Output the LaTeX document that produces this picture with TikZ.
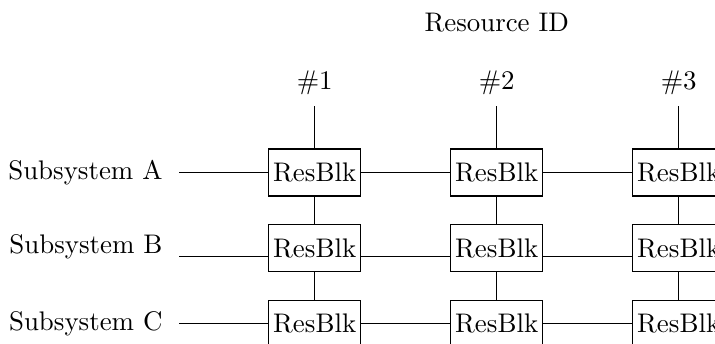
\documentclass[tikz,border=0pt]{standalone}
\begin{document}
\begin{tikzpicture}[x=0.372pt,y=-0.372pt,
  blk/.style={draw, line width=0.4pt, minimum width=34.2pt, minimum height=17.5pt, inner sep=0pt},
  wire/.style={line width=0.4pt},
  sys/.style={anchor=east, inner xsep=0pt}]
\useasboundingbox (0,0) rectangle (715,343);
\clip (0,0) rectangle (715,343);

% grid of resource blocks: rows are subsystems, columns are resource IDs
\foreach \c/\x in {1/314.7,2/496.7,3/678.7}{
  \foreach \r/\y in {A/172.5,B/248.2,C/323.8}{
    \node[blk] (\r\c) at (\x,\y) {ResBlk};
  }
}

% header
\node (rid) at (496.7,23) {Resource ID};
\foreach \c/\x in {1/314.7,2/496.7,3/678.7}{
  \node (id\c) at (\x,83) {\#\c};
  \coordinate (t\c) at (\x,106);
  \draw[wire] (t\c) -- (A\c.north);
  \draw[wire] (A\c.south) -- (B\c.north);
  \draw[wire] (B\c.south) -- (C\c.north);
}

% subsystem labels and their feed lines
\node[sys] (sA) at (163,172.5) {Subsystem A};
\node[sys] (sB) at (163,247) {Subsystem B};
\node[sys] (sC) at (163,323.8) {Subsystem C};
\coordinate (wA) at (179,172.5);
\coordinate (wB) at (179,256.5);
\coordinate (wC) at (179,323.8);

\draw[wire] (wA) -- (A1.west);
\draw[wire] (A1.east) -- (A2.west);
\draw[wire] (A2.east) -- (A3.west);

% the middle row runs at the text baseline
\draw[wire] (wB) -- (wB -| B1.west);
\draw[wire] (B1.east |- wB) -- (B2.west |- wB);
\draw[wire] (B2.east |- wB) -- (B3.west |- wB);

\draw[wire] (wC) -- (C1.west);
\draw[wire] (C1.east) -- (C2.west);
\draw[wire] (C2.east) -- (C3.west);
\end{tikzpicture}
\end{document}
